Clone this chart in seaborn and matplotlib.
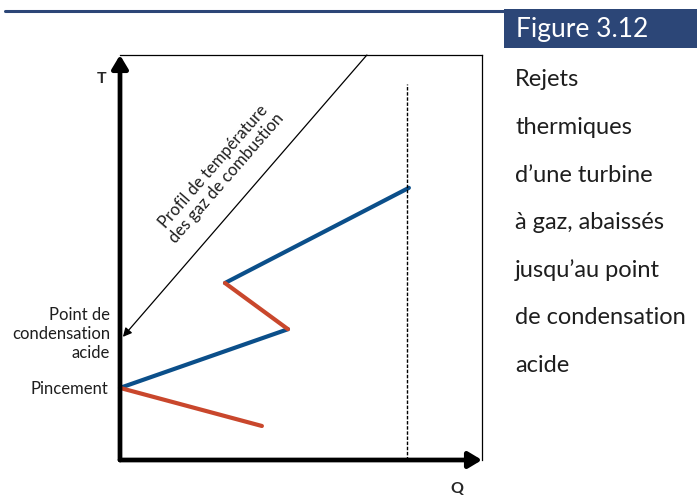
import numpy as np
import pandas as pd
import seaborn as sns
import matplotlib
matplotlib.use("Agg")
import matplotlib.pyplot as plt
from matplotlib.patches import Rectangle
from matplotlib.lines import Line2D

# ---- data (Q, T in relative units 0-100) ----
water_Q = [0, 46.4, 29.0, 79.8]
water_T = [17.8, 32.3, 43.7, 67.2]
water_kind = ["eau", "retour", "eau"]
cold_Q = [0, 39.2]
cold_T = [17.8, 8.4]
gas_Q = [68.2, 0.8]
gas_T = [100, 30.4]
limit_Q = 79.3
limit_T_top = 92.8

side_lines = ["Rejets", "thermiques", "d\u2019une turbine", "\u00e0 gaz, abaiss\u00e9s",
              "jusqu\u2019au point", "de condensation", "acide"]
fig_title = "Figure 3.12"

BLUE = "#0b4f8a"
RED = "#c9472c"
NAVY = "#2c4677"

sns.set_theme(style="white")
plt.rcParams["font.family"] = ["Lato", "DejaVu Sans"]

W, H = 697, 499
fig = plt.figure(figsize=(W / 100, H / 100), dpi=100)

def fx(x):
    return x / W

def fy(y):
    return 1 - y / H

# axes in pixel frame: x 120..482, y 55..460
ax = fig.add_axes([fx(120), fy(460), (482 - 120) / W, (460 - 55) / H])
ax.set_xlim(0, 100)
ax.set_ylim(0, 100)
ax.set_xticks([])
ax.set_yticks([])
for s in ["left", "bottom"]:
    ax.spines[s].set_visible(False)
for s in ["top", "right"]:
    ax.spines[s].set_linewidth(0.9)
    ax.spines[s].set_color("black")

# segments dataframe
rows = []
for i, k in enumerate(water_kind):
    for j in (i, i + 1):
        rows.append(dict(Q=water_Q[j], T=water_T[j], seg=f"w{i}", kind=k))
for j in range(2):
    rows.append(dict(Q=cold_Q[j], T=cold_T[j], seg="c", kind="retour"))
df = pd.DataFrame(rows)

sns.lineplot(data=df, x="Q", y="T", hue="kind", units="seg", estimator=None,
             sort=False, palette={"eau": BLUE, "retour": RED}, linewidth=3.0,
             legend=False, ax=ax)
for ln in ax.lines:
    ln.set_solid_capstyle("round")
    ln.set_clip_on(False)

# dashed limit
ax.plot([limit_Q, limit_Q], [0, limit_T_top], color="black", lw=1.0,
        ls=(0, (2.5, 1.2)), clip_on=False)

# gas profile arrow
ax.annotate("", xy=(gas_Q[1], gas_T[1]), xytext=(gas_Q[0], gas_T[0]),
            arrowprops=dict(arrowstyle="-|>", lw=0.9, color="black",
                            mutation_scale=13, shrinkA=0, shrinkB=0),
            annotation_clip=False)

# thick axes arrows
for end in [(0, 100), (100, 0)]:
    ax.annotate("", xy=end, xytext=(0, 0),
                arrowprops=dict(arrowstyle="-|>,head_length=0.5,head_width=0.3",
                                lw=3.4, color="black",
                                mutation_scale=16, shrinkA=0, shrinkB=0),
                annotation_clip=False)
ax.set_xlabel("")
ax.set_ylabel("")

TXT = "#1e1e1e"
# labels
fig.text(fx(102), fy(79), "T", ha="center", va="center", fontsize=11.5, fontweight="bold")
fig.text(fx(457), fy(489), "Q", ha="center", va="center", fontsize=11.5, fontweight="bold")
fig.text(fx(110), fy(334), "Point de\ncondensation\nacide", ha="right", va="center",
         fontsize=12, linespacing=1.25, color=TXT)
fig.text(fx(108), fy(389), "Pincement", ha="right", va="center", fontsize=12, color=TXT)
fig.text(fx(220), fy(172), "Profil de temp\u00e9rature\ndes gaz de combustion",
         ha="center", va="center", rotation=49, rotation_mode="anchor",
         fontsize=12, linespacing=1.1, color=TXT)

# header rule and title box
fig.add_artist(Line2D([fx(5), fx(512)], [fy(10.5), fy(10.5)], color=NAVY, lw=2.2))
fig.add_artist(Rectangle((fx(504), fy(48)), fx(697 - 504), (48 - 9) / H,
                         facecolor=NAVY, edgecolor="none"))
fig.text(fx(516), fy(29), fig_title, ha="left", va="center", color="white",
         fontsize=19)

y0, dy = 80, 47.5
for i, line in enumerate(side_lines):
    fig.text(fx(515), fy(y0 + i * dy), line, ha="left", va="center",
             fontsize=17, color=TXT)

fig.savefig("out.png", dpi=100)
